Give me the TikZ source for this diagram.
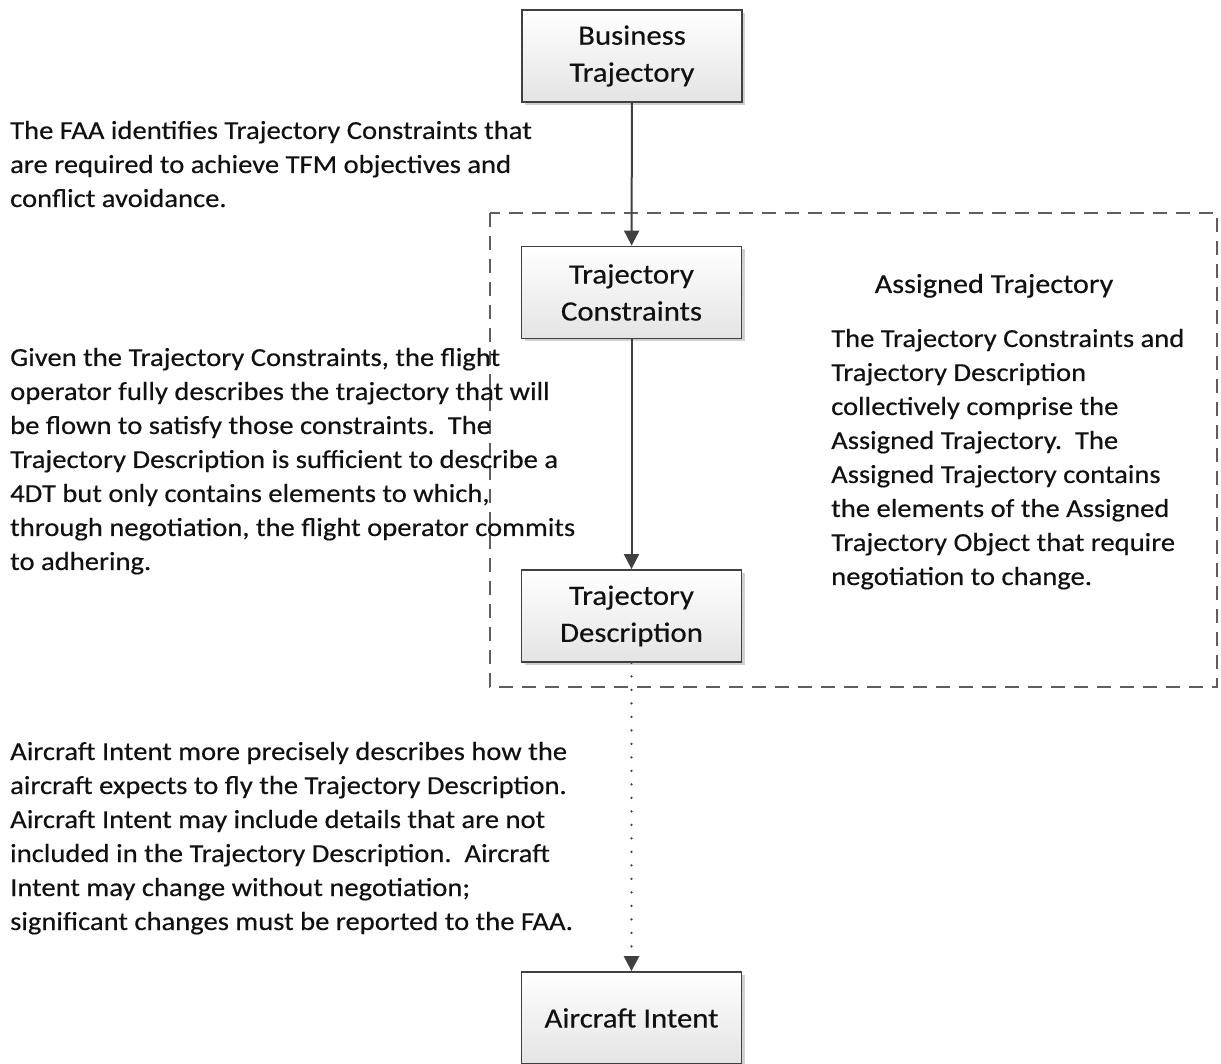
\documentclass[tikz,border=0pt]{standalone}
\usepackage{fontspec}
\setmainfont{Carlito}[FakeStretch=1.1,FakeBold=0.35]
\usetikzlibrary{arrows.meta,shadows}
\definecolor{edge}{HTML}{404040}
\definecolor{dashc}{HTML}{5E5E5E}
\definecolor{boxbot}{HTML}{E4E4E4}
\definecolor{txt}{HTML}{111111}
\tikzset{
  flowbox/.style={draw=edge, line width=1.8pt, minimum width=220pt, minimum height=92pt,
    top color=white, bottom color=boxbot, inner sep=0pt, align=center,
    font=\fontsize{28}{37}\selectfont, text=txt,
    drop shadow={shadow xshift=3pt, shadow yshift=-3pt, fill=black!30, opacity=0.6}},
  conn/.style={draw=edge, line width=2pt, -{Triangle[width=15pt,length=15pt]}},
  dotconn/.style={draw=edge, line width=2.6pt, line cap=round,
    dash pattern=on 0pt off 13.5pt, -{Triangle[width=15pt,length=15pt]}},
  group/.style={draw=dashc, line width=1.8pt, dash pattern=on 14pt off 9pt},
  para/.style={anchor=base west, inner sep=0pt, text=txt},
  heading/.style={anchor=base, inner sep=0pt, text=txt, font=\fontsize{27.5}{34}\selectfont}
}
\newcommand{\blocktext}[1]{\parbox[t]{800pt}{\fontsize{26}{34}\selectfont\raggedright #1}}
\begin{document}
\begin{tikzpicture}[x=1pt,y=-1pt]
\useasboundingbox[fill=white] (0,0) rectangle (1221,1064);

\draw[group] (490,213) rectangle (1217,687);

\node[flowbox] (bt) at (632,56) {\raisebox{-3pt}{\parbox{220pt}{\centering Business\\Trajectory}}};
\node[flowbox] (tc) at (631.5,292.5) {\raisebox{-3pt}{\parbox{220pt}{\centering Trajectory\\Constraints}}};
\node[flowbox] (td) at (631.5,616) {\raisebox{-3pt}{\parbox{220pt}{\centering Trajectory\\Description}}};
\node[flowbox] (ai) at (631.5,1018) {\raisebox{-3pt}{Aircraft Intent}};

\draw[conn] (bt) -- (tc);
\draw[conn] (tc) -- (td);
\draw[dotconn] (td.south) -- (ai.north);

\node[para] (t1) at (10,139) {\blocktext{The FAA identifies Trajectory Constraints that\\
are required to achieve TFM objectives and\\
conflict avoidance.}};

\node[para] (t2) at (10,366) {\blocktext{Given the Trajectory Constraints, the flight\\
operator fully describes the trajectory that will\\
be flown to satisfy those constraints.\ \ The\\
Trajectory Description is sufficient to describe a\\
4DT but only contains elements to which,\\
through negotiation, the flight operator commits\\
to adhering.}};

\node[para] (t3) at (10,760) {\blocktext{Aircraft Intent more precisely describes how the\\
aircraft expects to fly the Trajectory Description.\\
Aircraft Intent may include details that are not\\
included in the Trajectory Description.\ \ Aircraft\\
Intent may change without negotiation;\\
significant changes must be reported to the FAA.}};

\node[heading] (h) at (994,293) {Assigned Trajectory};

\node[para] (t4) at (831,347) {\blocktext{The Trajectory Constraints and\\
Trajectory Description\\
collectively comprise the\\
Assigned Trajectory.\ \ The\\
Assigned Trajectory contains\\
the elements of the Assigned\\
Trajectory Object that require\\
negotiation to change.}};
\end{tikzpicture}
\end{document}
